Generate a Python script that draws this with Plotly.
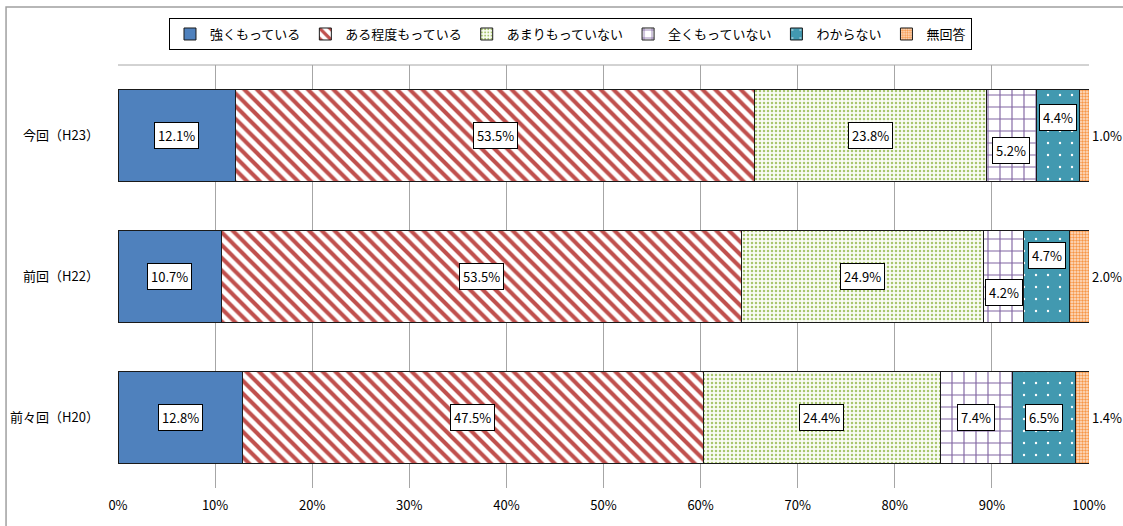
import plotly.graph_objects as go

categories = ["今回（H23）", "前回（H22）", "前々回（H20）"]
series_names = ["強くもっている", "ある程度もっている", "あまりもっていない", "全くもっていない", "わからない", "無回答"]
v_strong = [12.1, 10.7, 12.8]
v_somewhat = [53.5, 53.5, 47.5]
v_notmuch = [23.8, 24.9, 24.4]
v_none = [5.2, 4.2, 7.4]
v_unknown = [4.4, 4.7, 6.5]
v_noanswer = [1.0, 2.0, 1.4]
x_ticks = [0, 10, 20, 30, 40, 50, 60, 70, 80, 90, 100]
x_tick_labels = ["0%", "10%", "20%", "30%", "40%", "50%", "60%", "70%", "80%", "90%", "100%"]

series_values = [v_strong, v_somewhat, v_notmuch, v_none, v_unknown, v_noanswer]

FONT = "Noto Sans CJK JP, Noto Sans, sans-serif"

styles = [
    dict(color="#4F81BD"),
    dict(color="white", pattern=dict(shape="\\", fgcolor="#C0504D", bgcolor="white", size=9, solidity=0.45, fgopacity=1, fillmode="overlay")),
    dict(color="white", pattern=dict(shape=".", fgcolor="#A9C76E", bgcolor="#FAFCF5", size=4, solidity=0.3, fgopacity=1, fillmode="overlay")),
    dict(color="white", pattern=dict(shape="+", fgcolor="#8064A2", bgcolor="white", size=12, solidity=0.18, fgopacity=1, fillmode="overlay")),
    dict(color="#4299B0", pattern=dict(shape=".", fgcolor="white", bgcolor="#4299B0", size=12, solidity=0.03, fgopacity=1, fillmode="overlay")),
    dict(color="white", pattern=dict(shape=".", fgcolor="#F79646", bgcolor="#FDE3CF", size=3, solidity=0.5, fgopacity=1, fillmode="overlay")),
]

fig = go.Figure()
for name, vals, st in zip(series_names, series_values, styles):
    marker = dict(line=dict(color="#1a1a1a", width=1), **st)
    fig.add_trace(go.Bar(
        y=categories, x=vals, name=name, orientation="h",
        marker=marker, hoverinfo="x+name",
    ))

# Labels
yshifts = {
    (0, 3): -15, (0, 4): 18,
    (1, 3): -16, (1, 4): 21,
}
annotations = []
for ci, cat in enumerate(categories):
    cum = 0.0
    for si, vals in enumerate(series_values):
        v = vals[ci]
        if si == len(series_values) - 1:
            annotations.append(dict(
                x=100, y=cat, xref="x", yref="y", text=f"{v:.1f}%", showarrow=False,
                xanchor="left", xshift=1, font=dict(family=FONT, size=13, color="black"),
            ))
        else:
            annotations.append(dict(
                x=cum + v / 2, y=cat, xref="x", yref="y", text=f"{v:.1f}%", showarrow=False,
                yshift=yshifts.get((ci, si), 0),
                bgcolor="white", bordercolor="black", borderwidth=1, borderpad=3,
                font=dict(family=FONT, size=13, color="black"),
            ))
        cum += v

fig.update_layout(
    width=1123, height=526,
    margin=dict(l=118, r=34, t=65, b=38, autoexpand=False),
    barmode="stack", bargap=0.35,
    plot_bgcolor="white", paper_bgcolor="white",
    font=dict(family=FONT, size=13, color="black"),
    showlegend=True,
    legend=dict(
        orientation="h", x=0.466, xanchor="center", y=1.111, yanchor="top",
        bordercolor="#000000", borderwidth=1, bgcolor="white",
        font=dict(family=FONT, size=13, color="black"),
        traceorder="normal", itemwidth=30, tracegroupgap=0,
    ),
    annotations=annotations,
    shapes=[
        dict(type="line", xref="paper", yref="paper", x0=0, x1=1, y0=1, y1=1,
             line=dict(color="#A6A6A6", width=1)),
        dict(type="rect", xref="paper", yref="paper", x0=-0.1153, x1=1.1, y0=-0.2, y1=1.137,
             line=dict(color="#A0A0A0", width=1.5), layer="below"),
    ],
)
fig.update_xaxes(
    range=[0, 100], tickvals=x_ticks, ticktext=x_tick_labels,
    showgrid=True, gridcolor="#A6A6A6", gridwidth=1, zeroline=False,
    showline=False, ticks="", tickfont=dict(family=FONT, size=13, color="black"),
    ticklabelstandoff=8, automargin=False,
)
fig.update_yaxes(
    autorange="reversed", showgrid=False, showline=False, ticks="",
    tickfont=dict(family=FONT, size=13, color="black"), ticklabelstandoff=18,
    automargin=False,
)

fig.write_html("out.html", config={"displayModeBar": False},
               post_script="document.body.style.margin='0';document.body.style.overflow='hidden';")
